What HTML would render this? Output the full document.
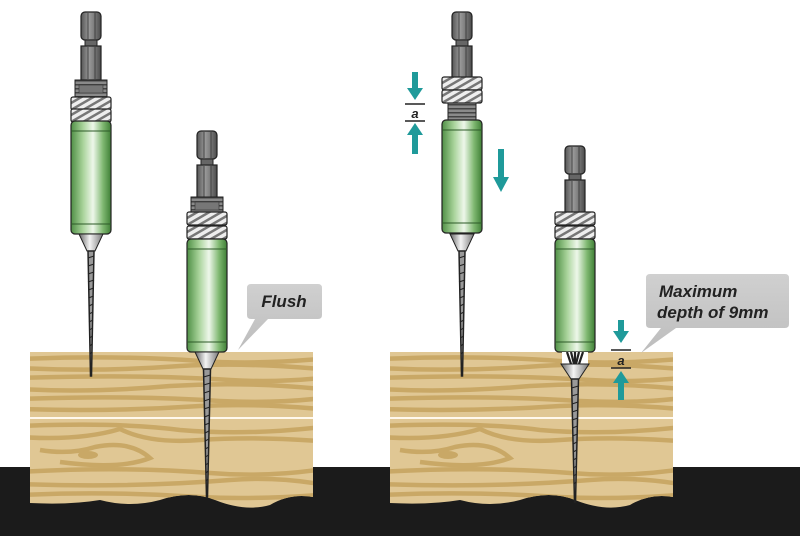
<!DOCTYPE html>
<html><head><meta charset="utf-8"><style>
html,body{margin:0;padding:0;background:#fff;width:800px;height:536px;overflow:hidden}
svg{display:block}
</style></head><body>
<svg width="800" height="536" viewBox="0 0 800 536" xmlns="http://www.w3.org/2000/svg">
<defs>
<linearGradient id="grn" x1="0" x2="1"><stop offset="0" stop-color="#4f8f45"/><stop offset="0.3" stop-color="#a8d39a"/><stop offset="0.55" stop-color="#eef7ea"/><stop offset="0.8" stop-color="#7fb871"/><stop offset="1" stop-color="#3f7f36"/></linearGradient>
<linearGradient id="gry" x1="0" x2="1"><stop offset="0" stop-color="#555"/><stop offset="0.4" stop-color="#9a9a9a"/><stop offset="0.7" stop-color="#777"/><stop offset="1" stop-color="#4a4a4a"/></linearGradient>
<linearGradient id="coneg" x1="0" x2="1"><stop offset="0" stop-color="#666"/><stop offset="0.45" stop-color="#f4f4f4"/><stop offset="1" stop-color="#777"/></linearGradient>
<linearGradient id="bub" x1="0" y1="0" x2="0" y2="1"><stop offset="0" stop-color="#d0d0d0"/><stop offset="1" stop-color="#bdbdbd"/></linearGradient>
<pattern id="hatch" width="6" height="6" patternUnits="userSpaceOnUse" patternTransform="rotate(-30)"><rect width="6" height="6" fill="#eee"/><rect width="6" height="2.5" fill="#777"/></pattern>
<pattern id="thr" width="4" height="4" patternUnits="userSpaceOnUse"><rect width="4" height="4" fill="#8a8a8a"/><rect width="4" height="1.5" fill="#444"/></pattern>
<clipPath id="wclip"><path d="M30 352 H313 V497 Q290 493 270 505 Q245 512 215 500 Q190 490 160 500 Q130 508 100 500 Q70 505 30 503 Z"/></clipPath>
<g id="wood">
 <path d="M30 352 H313 V497 Q290 493 270 505 Q245 512 215 500 Q190 490 160 500 Q130 508 100 500 Q70 505 30 503 Z" fill="#e0c794"/>
 <g clip-path="url(#wclip)" fill="none" stroke="#c9a866" stroke-width="4.5">
  <path d="M20 359 Q120 355 200 361 Q260 365 330 358"/>
  <path d="M20 368 Q100 372 180 366 Q250 362 330 370"/>
  <path d="M20 378 Q140 374 230 380 Q280 383 330 377"/>
  <path d="M20 389 Q90 393 170 386 Q250 381 330 390"/>
  <path d="M20 399 Q130 395 220 401 Q280 404 330 397"/>
  <path d="M20 409 Q110 412 200 406 Q260 403 330 410"/>
  <path d="M20 426 Q120 422 180 430 Q250 436 330 426"/>
  <path d="M20 437 Q80 441 120 429 Q150 444 200 440 Q260 436 330 442"/>
  <path d="M40 450 Q70 455 95 447 Q130 440 150 458 Q120 470 60 462"/>
  <path d="M20 472 Q120 466 210 473 Q270 478 330 468"/>
  <path d="M20 484 Q130 488 230 480 Q280 476 330 486"/>
  <path d="M20 495 Q110 491 200 497 Q260 500 330 494"/>
 </g>
 <ellipse cx="88" cy="455" rx="10" ry="4" fill="#c9a866"/>
 <rect x="30" y="417" width="283" height="2" fill="#fff8ec"/>
</g>
<g id="bit">
 <rect x="-10" y="0" width="20" height="28" rx="4" fill="url(#gry)" stroke="#222" stroke-width="1.2"/>
 <line x1="-3" y1="1" x2="-3" y2="27" stroke="#333" stroke-width="0.8"/><line x1="4" y1="1" x2="4" y2="27" stroke="#333" stroke-width="0.8"/>
 <rect x="-6" y="28" width="12" height="6" fill="#666" stroke="#222"/>
 <rect x="-10" y="34" width="20" height="34" fill="url(#gry)" stroke="#222" stroke-width="1.2"/>
 <line x1="-3" y1="35" x2="-3" y2="67" stroke="#333" stroke-width="0.8"/><line x1="4" y1="35" x2="4" y2="67" stroke="#333" stroke-width="0.8"/>
</g>
<g id="collar"><rect x="-16" y="0" width="32" height="17" fill="url(#thr)" stroke="#222"/><rect x="-12" y="5" width="24" height="8" fill="#777" stroke="#333" stroke-width="0.6"/></g>
<g id="nut"><rect x="-20" y="0" width="40" height="13" rx="2" fill="url(#hatch)" stroke="#222" stroke-width="1.2"/></g>
<g id="body"><rect x="-20" y="0" width="40" height="113" rx="4" fill="url(#grn)" stroke="#222" stroke-width="1.2"/><line x1="-20" y1="10" x2="20" y2="10" stroke="#2d5a28"/><line x1="-20" y1="103" x2="20" y2="103" stroke="#2d5a28"/></g>
<g id="conep"><path d="M-12 0 L12 0 L4 17 L-4 17 Z" fill="url(#coneg)" stroke="#222"/></g>
</defs>

<rect x="0" y="467" width="800" height="69" fill="#1b1b1b"/>

<use href="#wood"/>
<use href="#wood" x="360"/>

<!-- Tool 1 -->
<g transform="translate(91,0)">
 <use href="#bit" y="12"/>
 <use href="#collar" y="80"/>
 <use href="#nut" y="97"/><use href="#nut" y="109"/>
 <use href="#body" y="121"/>
 <use href="#conep" y="234"/>
 <path d="M-3 251 L3 251 L0.5 376 L-0.5 376 Z" fill="#999" stroke="#222" stroke-width="1.5"/>
 <path d="M-3 258 L3 256 M-3 266 L3 264 M-3 274 L3 272 M-3 282 L3 280 M-2.5 290 L2.5 288 M-2.5 298 L2.5 296 M-2 306 L2 304 M-2 314 L2 312 M-2 322 L2 320 M-1.5 330 L1.5 328 M-1.5 338 L1.5 336 M-1 346 L1 344 M-1 354 L1 352" stroke="#222" stroke-width="1"/>
</g>
<!-- Tool 2 -->
<g transform="translate(207,119)">
 <use href="#bit" y="12"/>
 <use href="#collar" y="78"/>
 <use href="#nut" y="93"/><use href="#nut" y="107"/>
 <use href="#body" y="120"/>
 <use href="#conep" y="233"/>
 <path d="M-3.5 250 L3.5 250 L0.5 378 L-0.5 378 Z" fill="#999" stroke="#222" stroke-width="1.5"/>
 <path d="M-3.5 258 L3.5 256 M-3.5 266 L3.5 264 M-3 274 L3 272 M-3 282 L3 280 M-3 290 L3 288 M-2.5 298 L2.5 296 M-2.5 306 L2.5 304 M-2 314 L2 312 M-2 322 L2 320 M-2 330 L2 328 M-1.5 338 L1.5 336 M-1.5 346 L1.5 344 M-1 354 L1 352 M-1 362 L1 360" stroke="#222" stroke-width="1"/>
</g>
<!-- Tool 3 -->
<g transform="translate(462,0)">
 <use href="#bit" y="12"/>
 <use href="#nut" y="77"/><use href="#nut" y="90"/>
 <rect x="-14" y="103" width="28" height="17" fill="url(#thr)" stroke="#222"/>
 <use href="#body" y="120"/>
 <use href="#conep" y="234"/>
 <path d="M-3 251 L3 251 L0.5 376 L-0.5 376 Z" fill="#999" stroke="#222" stroke-width="1.5"/>
 <path d="M-3 258 L3 256 M-3 266 L3 264 M-3 274 L3 272 M-3 282 L3 280 M-2.5 290 L2.5 288 M-2.5 298 L2.5 296 M-2 306 L2 304 M-2 314 L2 312 M-2 322 L2 320 M-1.5 330 L1.5 328 M-1.5 338 L1.5 336 M-1 346 L1 344 M-1 354 L1 352" stroke="#222" stroke-width="1"/>
</g>
<!-- Tool 4 -->
<g transform="translate(575,134)">
 <use href="#bit" y="12"/>
 <use href="#nut" y="78"/><use href="#nut" y="92"/>
 <use href="#body" y="105"/>
 <rect x="-13" y="218" width="26" height="13" fill="#fff"/>
 <path d="M-8 218 L-4 230 M-4 218 L-1 230 M8 218 L4 230 M4 218 L1 230 M0 218 L0 230" stroke="#222" stroke-width="2.2"/>
 <path d="M-14 230 L14 230 L4 245 L-4 245 Z" fill="url(#coneg)" stroke="#222"/>
 <path d="M-3.5 245 L3.5 245 L0.5 368 L-0.5 368 Z" fill="#999" stroke="#222" stroke-width="1.5"/>
 <path d="M-3.5 254 L3.5 252 M-3.5 262 L3.5 260 M-3 270 L3 268 M-3 278 L3 276 M-3 286 L3 284 M-2.5 294 L2.5 292 M-2.5 302 L2.5 300 M-2 310 L2 308 M-2 318 L2 316 M-2 326 L2 324 M-1.5 334 L1.5 332 M-1.5 342 L1.5 340 M-1 350 L1 348" stroke="#222" stroke-width="1"/>
</g>

<g fill="#1f9a9a">
 <rect x="412" y="72" width="6" height="18"/><path d="M407 88 L423 88 L415 100 Z"/>
 <path d="M407 135 L423 135 L415 123 Z"/><rect x="412" y="134" width="6" height="20"/>
 <rect x="498" y="149" width="6" height="30"/><path d="M493 177 L509 177 L501 192 Z"/>
 <rect x="618" y="320" width="6" height="13"/><path d="M613 331 L629 331 L621 343 Z"/>
 <path d="M613 383 L629 383 L621 371 Z"/><rect x="618" y="382" width="6" height="18"/>
</g>
<g stroke="#222" stroke-width="1.5">
 <line x1="405" y1="104" x2="425" y2="104"/><line x1="405" y1="121" x2="425" y2="121"/>
 <line x1="611" y1="350" x2="631" y2="350"/><line x1="611" y1="368" x2="631" y2="368"/>
</g>
<g font-family="Liberation Sans, sans-serif" font-weight="bold" font-style="italic" fill="#222" text-anchor="middle">
 <text x="415" y="118" font-size="13">a</text>
 <text x="621" y="365" font-size="13">a</text>
</g>

<path d="M251 284 H318 Q322 284 322 288 V315 Q322 319 318 319 H268 L238 350 L255 319 H251 Q247 319 247 315 V288 Q247 284 251 284 Z" fill="url(#bub)"/>
<text x="284" y="307" font-family="Liberation Sans, sans-serif" font-weight="bold" font-style="italic" font-size="17" fill="#222" text-anchor="middle">Flush</text>
<path d="M650 274 H785 Q789 274 789 278 V324 Q789 328 785 328 H676 L641 353 L661 328 H650 Q646 328 646 324 V278 Q646 274 650 274 Z" fill="url(#bub)"/>
<g font-family="Liberation Sans, sans-serif" font-weight="bold" font-style="italic" font-size="17" fill="#222">
 <text x="659" y="297">Maximum</text>
 <text x="657" y="318">depth of 9mm</text>
</g>
</svg>
</body></html>
